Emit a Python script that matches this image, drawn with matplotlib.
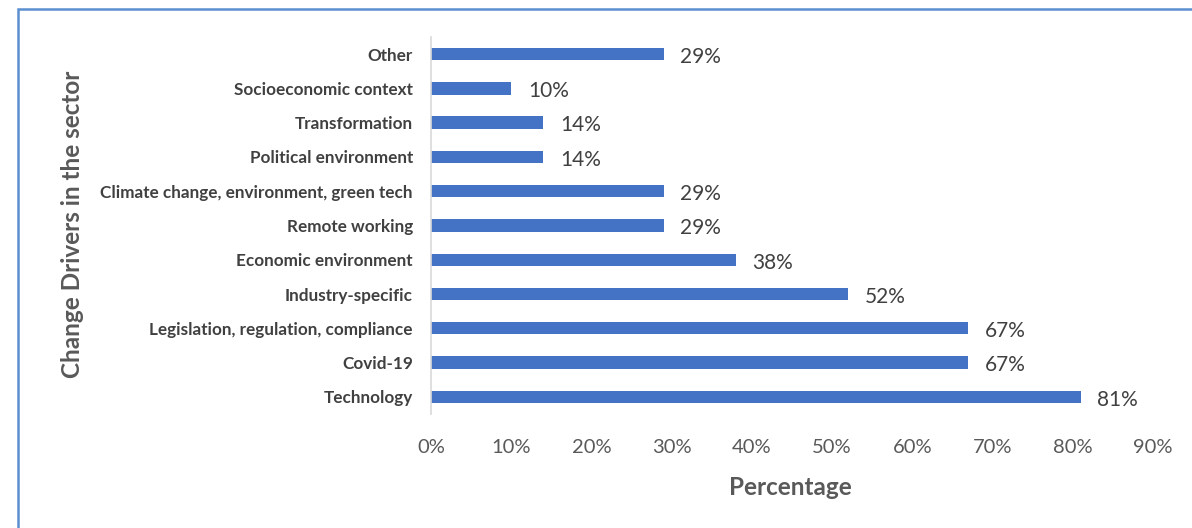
import matplotlib.pyplot as plt
from matplotlib.patches import Rectangle

drivers = ['Technology', 'Covid-19', 'Legislation, regulation, compliance', 'Industry-specific',
           'Economic environment', 'Remote working', 'Climate change, environment, green tech',
           'Political environment', 'Transformation', 'Socioeconomic context', 'Other']
share = [0.81, 0.67, 0.67, 0.52, 0.38, 0.29, 0.29, 0.14, 0.14, 0.10, 0.29]
xticks = [0, 0.1, 0.2, 0.3, 0.4, 0.5, 0.6, 0.7, 0.8, 0.9]

plt.rcParams['font.family'] = ['Lato', 'DejaVu Sans']

fig = plt.figure(figsize=(11.92, 5.28), dpi=100)
ax = fig.add_axes([0.3616, 0.216, 0.6055, 0.714])

pos = list(range(len(drivers)))
bars = ax.barh(pos, share, height=0.36, color='#4472C4')
for b, v in zip(bars, share):
    ax.annotate(f'{v*100:.0f}%', (b.get_width(), b.get_y() + b.get_height() / 2),
                xytext=(12, -2), textcoords='offset points', va='center', ha='left',
                fontsize=15, color='#404040')

ax.set_xlim(0, 0.9)
ax.set_ylim(-0.5, len(drivers) - 0.5)
ax.set_xticks(xticks)
ax.set_xticklabels([f'{t*100:.0f}%' for t in xticks], fontsize=14.5, color='#595959')
ax.set_yticks(pos)
ax.set_yticklabels(drivers, fontsize=12.3, fontweight='bold', color='#404040')
ax.tick_params(axis='x', length=0, pad=18)
ax.tick_params(axis='y', length=0, pad=13)
for s in ['top', 'right', 'bottom']:
    ax.spines[s].set_visible(False)
ax.spines['left'].set_color('#D9D9D9')
ax.spines['left'].set_linewidth(1.2)

fig.text(0.663, 0.077, 'Percentage', ha='center', va='center', fontsize=17.5,
         fontweight='bold', color='#595959')
fig.text(0.061, 0.575, 'Change Drivers in the sector', ha='center', va='center',
         rotation=90, fontsize=17.5, fontweight='bold', color='#595959')

# outer frame, cut off at the right and bottom like the reference
fig.patches.append(Rectangle((18 / 1192, -0.1), 1.2, 1 - 9 / 528 + 0.1,
                             transform=fig.transFigure, fill=False,
                             edgecolor='#5B8FD0', linewidth=1.8))

fig.savefig('out.png', dpi=100)
